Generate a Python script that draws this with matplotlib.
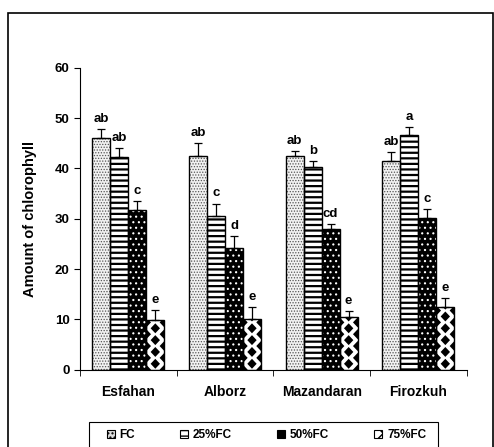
import numpy as np
import matplotlib
matplotlib.use("Agg")
import matplotlib.pyplot as plt
from matplotlib.patches import Rectangle, Polygon, Patch
from matplotlib.collections import PatchCollection

plt.rcParams['font.family'] = ['Liberation Sans', 'DejaVu Sans']
plt.rcParams['font.weight'] = 'bold'

# data
sites = ["Esfahan", "Alborz", "Mazandaran", "Firozkuh"]
treatments = ["FC", "25%FC", "50%FC", "75%FC"]
fc = [46.1, 42.4, 42.4, 41.5]
fc25 = [42.2, 30.5, 40.3, 46.6]
fc50 = [31.7, 24.2, 27.9, 30.2]
fc75 = [9.8, 10.0, 10.5, 12.5]
err_fc = [1.7, 2.6, 1.1, 1.7]
err_fc25 = [1.9, 2.5, 1.2, 1.6]
err_fc50 = [1.8, 2.4, 1.1, 1.7]
err_fc75 = [2.0, 2.4, 1.2, 1.8]
letters_fc = ["ab", "ab", "ab", "ab"]
letters_fc25 = ["ab", "c", "b", "a"]
letters_fc50 = ["c", "d", "cd", "c"]
letters_fc75 = ["e", "e", "e", "e"]

values = [fc, fc25, fc50, fc75]
errors = [err_fc, err_fc25, err_fc50, err_fc75]
letters = [letters_fc, letters_fc25, letters_fc50, letters_fc75]

W, H = 494, 447
fig = plt.figure(figsize=(W / 100, H / 100), dpi=100)
ax = fig.add_axes([80 / W, 1 - 369.7 / H, 386.7 / W, 302 / H])

x = np.arange(len(sites))
w = 0.186
offsets = [-1.5 * w, -0.5 * w, 0.5 * w, 1.5 * w]

# FC: fine stipple
with plt.rc_context({'hatch.linewidth': 0.6}):
    ax.bar(x + offsets[0], fc, w, color='#f2f2f2', edgecolor='#555555',
           hatch='......', linewidth=0, zorder=2)
# 25%FC: horizontal stripes
with plt.rc_context({'hatch.linewidth': 1.6}):
    ax.bar(x + offsets[1], fc25, w, color='white', edgecolor='black',
           hatch='---', linewidth=0, zorder=2)
# 50%FC: black with white dots
with plt.rc_context({'hatch.linewidth': 0.8}):
    ax.bar(x + offsets[2], fc50, w, color='black', edgecolor='white',
           hatch='...', linewidth=0, zorder=2)
# 75%FC: white with black diamonds
bars75 = ax.bar(x + offsets[3], fc75, w, color='white', linewidth=0, zorder=2)

dy = 2.35
for b in bars75:
    x0, wd, h = b.get_x(), b.get_width(), b.get_height()
    xc = x0 + wd / 2
    polys = []
    for k in range(int(h / dy) + 3):
        for cx, cy in [(xc, k * dy + dy / 2), (x0, k * dy), (x0 + wd, k * dy)]:
            hx, hy = 0.26 * wd, 0.42 * dy
            polys.append(Polygon([(cx - hx, cy), (cx, cy + hy), (cx + hx, cy), (cx, cy - hy)]))
    pc = PatchCollection(polys, facecolor='black', edgecolor='none', zorder=2.5)
    ax.add_collection(pc)
    pc.set_clip_path(b)

# outlines
for i in range(4):
    ax.bar(x + offsets[i], values[i], w, fill=False, edgecolor='black',
           linewidth=1.0, zorder=3)
    ax.errorbar(x + offsets[i], values[i],
                yerr=[np.zeros(4), errors[i]], fmt='none', ecolor='black',
                elinewidth=0.9, capsize=3, capthick=0.9, zorder=4)
    for j in range(4):
        ax.annotate(letters[i][j], (x[j] + offsets[i], values[i][j] + errors[i][j]),
                    xytext=(0, 3), textcoords='offset points', ha='center',
                    va='bottom', fontsize=9.5, fontweight='bold')

ax.set_xlim(-0.5, 3.5)
ax.set_ylim(0, 60)
ax.set_yticks(range(0, 61, 10))
ax.set_xticks(x)
ax.set_xticklabels(sites, fontsize=10, fontweight='bold')
ax.set_xticks(np.arange(-0.5, 4, 1), minor=True)
ax.tick_params(axis='x', which='major', length=0, pad=11)
ax.tick_params(axis='x', which='minor', length=4, direction='out')
ax.tick_params(axis='y', length=4, direction='out', labelsize=9.5)
for lab in ax.get_yticklabels():
    lab.set_fontweight('bold')
ax.spines['top'].set_visible(False)
ax.spines['right'].set_visible(False)
ax.set_ylabel("Amount of chlorophyll", fontsize=10.5, fontweight='bold', labelpad=13)

# legend
handles = [
    Patch(facecolor='#dddddd', edgecolor='black', hatch='....', linewidth=0.8),
    Patch(facecolor='white', edgecolor='black', hatch='---', linewidth=0.8),
    Patch(facecolor='black', edgecolor='black', linewidth=0.8),
    Patch(facecolor='white', edgecolor='black', hatch='xx', linewidth=0.8),
]
fig.legend(handles, treatments, loc='center left', ncol=4, frameon=False,
           bbox_to_anchor=(96 / W, 1 - 435 / H), handlelength=0.7,
           handleheight=0.7, handletextpad=0.4, columnspacing=3.8,
           prop={'size': 8.5, 'weight': 'bold'})
fig.patches.append(Rectangle((89 / W, -0.05), 349 / W, 0.05 + (H - 421.7) / H,
                             transform=fig.transFigure, fill=False,
                             edgecolor='black', linewidth=0.8))
fig.patches.append(Rectangle((8 / W, -0.05), (493 - 8) / W, 1.05 - 13 / H,
                             transform=fig.transFigure, fill=False,
                             edgecolor='black', linewidth=1.2))

fig.savefig("out.png", dpi=100)
